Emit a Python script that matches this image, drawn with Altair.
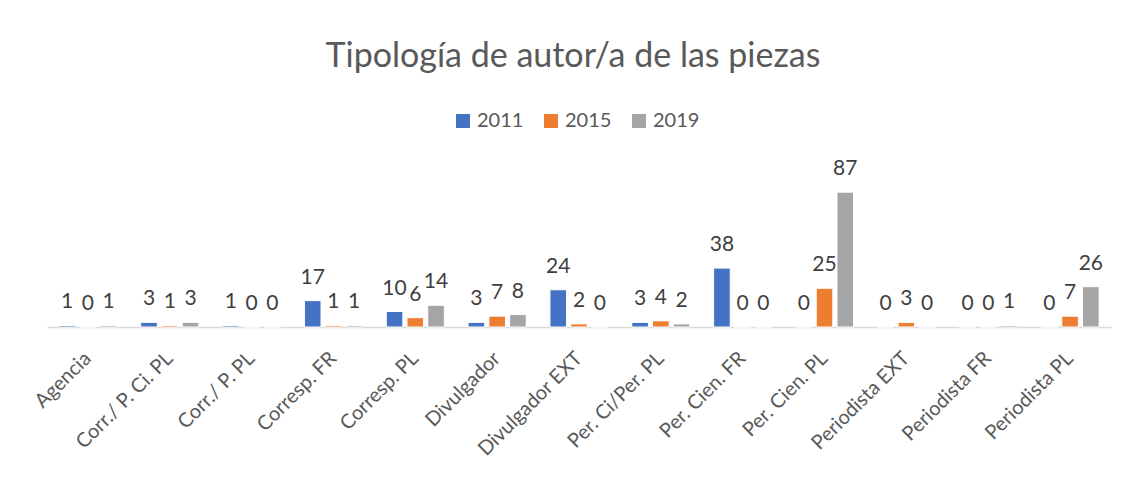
import altair as alt
import pandas as pd

categories = ["Agencia", "Corr./ P. Ci. PL", "Corr./ P. PL", "Corresp. FR", "Corresp. PL",
              "Divulgador", "Divulgador EXT", "Per. Ci/Per. PL", "Per. Cien. FR",
              "Per. Cien. PL", "Periodista EXT", "Periodista FR", "Periodista PL"]
years = ["2011", "2015", "2019"]
v2011 = [1, 3, 1, 17, 10, 3, 24, 3, 38, 0, 0, 0, 0]
v2015 = [0, 1, 0, 1, 6, 7, 2, 4, 0, 25, 3, 0, 7]
v2019 = [1, 3, 0, 1, 14, 8, 0, 2, 0, 87, 0, 1, 26]
colors = ["#4472C4", "#ED7D31", "#A5A5A5"]

rows = []
for y, vals in zip(years, [v2011, v2015, v2019]):
    for c, v in zip(categories, vals):
        rows.append({"cat": c, "year": y, "value": v})
df = pd.DataFrame(rows)

FONT = "Lato"

base = alt.Chart(df).encode(
    x=alt.X("cat:N", sort=categories,
            scale=alt.Scale(paddingInner=0.29, paddingOuter=0.145),
            axis=alt.Axis(title=None, labelAngle=-45, labelFontSize=20, labelColor="#595959",
                          labelFont=FONT, labelBaseline="middle", labelAlign="right",
                          domainColor="#d9d9d9", domainWidth=1.5,
                          ticks=False, labelPadding=28)),
    xOffset=alt.XOffset("year:N", sort=years,
                        scale=alt.Scale(paddingInner=0.2, paddingOuter=0.0)),
    y=alt.Y("value:Q", scale=alt.Scale(domain=[0, 100]), axis=None),
)

bars = base.mark_bar(stroke="white", strokeWidth=1).encode(
    color=alt.Color("year:N", sort=years,
                    scale=alt.Scale(domain=years, range=colors),
                    legend=alt.Legend(title=None, orient="none", direction="horizontal",
                                      legendX=406, legendY=-61, symbolType="square",
                                      symbolSize=196, symbolStrokeWidth=0,
                                      labelFontSize=20, labelFont=FONT, labelColor="#595959",
                                      columnPadding=17, labelOffset=4, padding=0))
)

labels = base.mark_text(dy=-17, baseline="alphabetic", fontSize=21, font=FONT,
                        color="#404040").encode(text="value:Q")

chart = (bars + labels).properties(
    width=1064, height=155,
    title=alt.TitleParams("Tipología de autor/a de las piezas", fontSize=34, font=FONT,
                          fontWeight="normal", color="#595959", anchor="middle", offset=37,
                          dx=-6),
    autosize=alt.AutoSizeParams(type="none"),
    padding={"left": 39, "top": 164, "right": 12, "bottom": 142},
).configure_view(stroke=None)

chart.save("out.html", embed_options={"renderer": "svg", "actions": False})
